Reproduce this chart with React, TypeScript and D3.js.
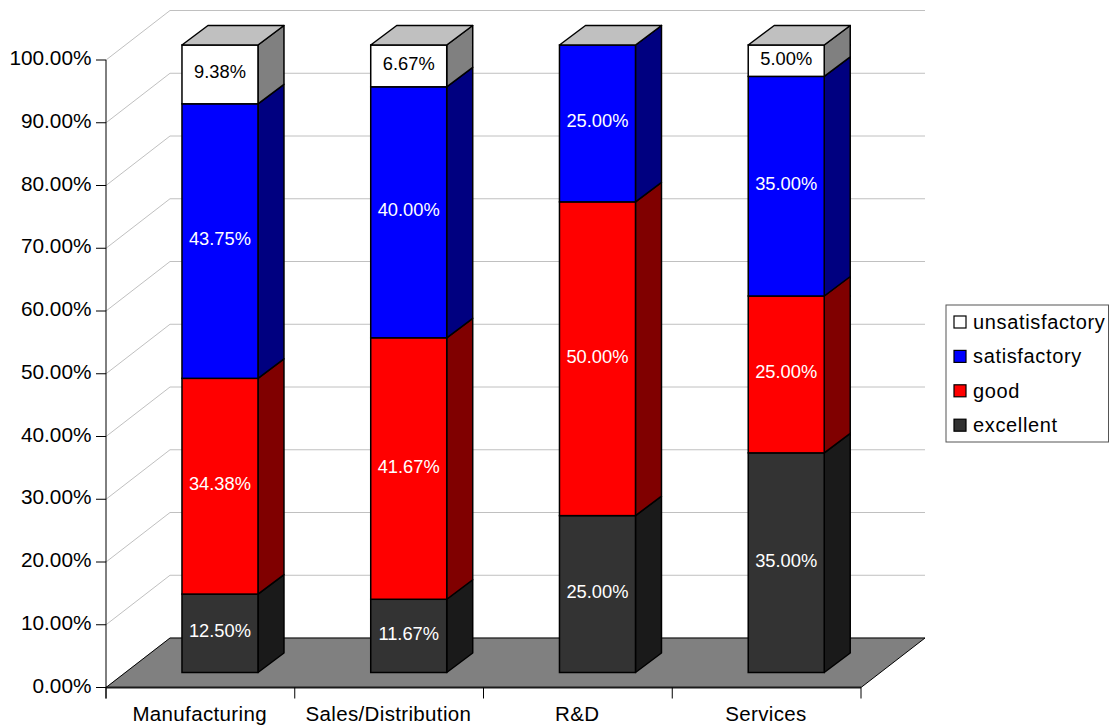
import React from "react";
import * as d3 from "d3";

const categories = ["Manufacturing", "Sales/Distribution", "R&D", "Services"];
const seriesNames = ["excellent", "good", "satisfactory", "unsatisfactory"];
const excellent = [12.5, 11.67, 25, 35];
const good = [34.38, 41.67, 50, 25];
const satisfactory = [43.75, 40, 25, 35];
const unsatisfactory = [9.38, 6.67, 0, 5];
const frontColors = ["#333333", "#ff0000", "#0000ff", "#ffffff"];
const sideColors = ["#1a1a1a", "#800000", "#000080", "#808080"];
const labelColors = ["#ffffff", "#ffffff", "#ffffff", "#000000"];
const topColor = "#c0c0c0";
const yTicks = [0, 10, 20, 30, 40, 50, 60, 70, 80, 90, 100];

const FONT = "'Liberation Sans', Arial, sans-serif";
const seriesValues = [excellent, good, satisfactory, unsatisfactory];

// Oblique projection used for the floor and the walls
const depthX = 64;
const depthY = -49.5;
const barDepthX = 26;
const barDepthY = -19.5;

const y = d3.scaleLinear().domain([0, 100]).range([687.5, 60]).clamp(true);
const x = d3.scaleBand().domain(categories).range([106, 861]);
const barWidth = 76;

const pts = (p: number[][]) => p.map((q) => q.join(",")).join(" ");

export default function App() {
  const floorY = y(0);
  const wallLeft = 106 + depthX;
  const wallRight = 861 + depthX;

  // Each bar sits in the middle of the floor's depth
  const offX = (depthX - barDepthX) / 2 + 0.6;
  const offY = (depthY - barDepthY) / 2;

  const stacked = d3
    .stack<number>()
    .keys(seriesNames.map((_, i) => String(i)))
    .value((d, k) => seriesValues[+k][d])(categories.map((_, i) => i) as any);

  return (
    <svg width={1109} height={726} style={{ position: "absolute", left: 0, top: 0, background: "#fff" }}>
      {yTicks.map((t) => (
        <polyline
          key={t}
          points={pts([
            [106, y(t)],
            [wallLeft, y(t) + depthY],
            [wallRight, y(t) + depthY],
          ])}
          fill="none"
          stroke="#c0c0c0"
          strokeWidth={1}
        />
      ))}

      <polygon
        points={pts([
          [106, floorY],
          [wallLeft, floorY + depthY],
          [wallRight, floorY + depthY],
          [861, floorY],
        ])}
        fill="#808080"
        stroke="#000"
        strokeWidth={1}
      />
      <line x1={106} x2={861} y1={floorY} y2={floorY} stroke="#1a1a1a" strokeWidth={2} />

      <line x1={106} x2={106} y1={y(100)} y2={floorY + 11} stroke="#000" strokeWidth={1} />
      {yTicks.map((t) => (
        <g key={t}>
          <line x1={96} x2={106} y1={y(t)} y2={y(t)} stroke="#000" strokeWidth={1} />
          <text x={91.5} y={y(t) + 5} textAnchor="end" fontFamily={FONT} fontSize={20.8} fill="#000">
            {d3.format(".2f")(t)}%
          </text>
        </g>
      ))}
      {[...categories.map((c) => x(c)!), 861].map((v, i) => (
        <line key={i} x1={v} x2={v} y1={floorY} y2={floorY + 11} stroke="#000" strokeWidth={1} />
      ))}
      {categories.map((c) => (
        <text
          key={c}
          x={x(c)! + x.bandwidth() / 2 - 0.7}
          y={721}
          textAnchor="middle"
          fontFamily={FONT}
          fontSize={20.5}
          letterSpacing={0.35}
          fill="#000"
        >
          {c}
        </text>
      ))}

      {categories.map((c, ci) => {
        const left = x(c)! + (x.bandwidth() - barWidth) / 2 + offX;
        const right = left + barWidth;
        return (
          <g key={c}>
            {stacked.map((layer, si) => {
              const y0 = y(layer[ci][0]) + offY;
              const y1 = y(layer[ci][1]) + offY;
              return (
                <g key={si}>
                  <polygon
                    points={pts([
                      [right, y0],
                      [right + barDepthX, y0 + barDepthY],
                      [right + barDepthX, y1 + barDepthY],
                      [right, y1],
                    ])}
                    fill={sideColors[si]}
                    stroke="#000"
                    strokeWidth={1.5}
                    strokeLinejoin="round"
                  />
                  <rect
                    x={left}
                    y={y1}
                    width={barWidth}
                    height={y0 - y1}
                    fill={frontColors[si]}
                    stroke="#000"
                    strokeWidth={1.5}
                  />
                </g>
              );
            })}
            <polygon
              points={pts([
                [left, y(100) + offY],
                [left + barDepthX, y(100) + offY + barDepthY],
                [right + barDepthX, y(100) + offY + barDepthY],
                [right, y(100) + offY],
              ])}
              fill={topColor}
              stroke="#000"
              strokeWidth={1.5}
              strokeLinejoin="round"
            />
            {stacked.map((layer, si) => {
              const value = seriesValues[si][ci];
              if (!value) return null;
              const mid = y((layer[ci][0] + layer[ci][1]) / 2) + offY;
              return (
                <text
                  key={si}
                  x={(left + right) / 2}
                  y={mid + 4}
                  textAnchor="middle"
                  fontFamily={FONT}
                  fontSize={18.3}
                  fill={labelColors[si]}
                >
                  {d3.format(".2f")(value)}%
                </text>
              );
            })}
          </g>
        );
      })}

      <rect x={946} y={305} width={162.5} height={137} fill="#fff" stroke="#555" strokeWidth={1} />
      {[3, 2, 1, 0].map((si, row) => {
        const cy = 322 + row * 34.4;
        return (
          <g key={si}>
            <rect x={954} y={cy - 6} width={12} height={12} fill={frontColors[si]} stroke="#000" strokeWidth={1.2} />
            <text x={973} y={cy + 7} fontFamily={FONT} fontSize={20} letterSpacing={0.65} fill="#000">
              {seriesNames[si]}
            </text>
          </g>
        );
      })}
    </svg>
  );
}
